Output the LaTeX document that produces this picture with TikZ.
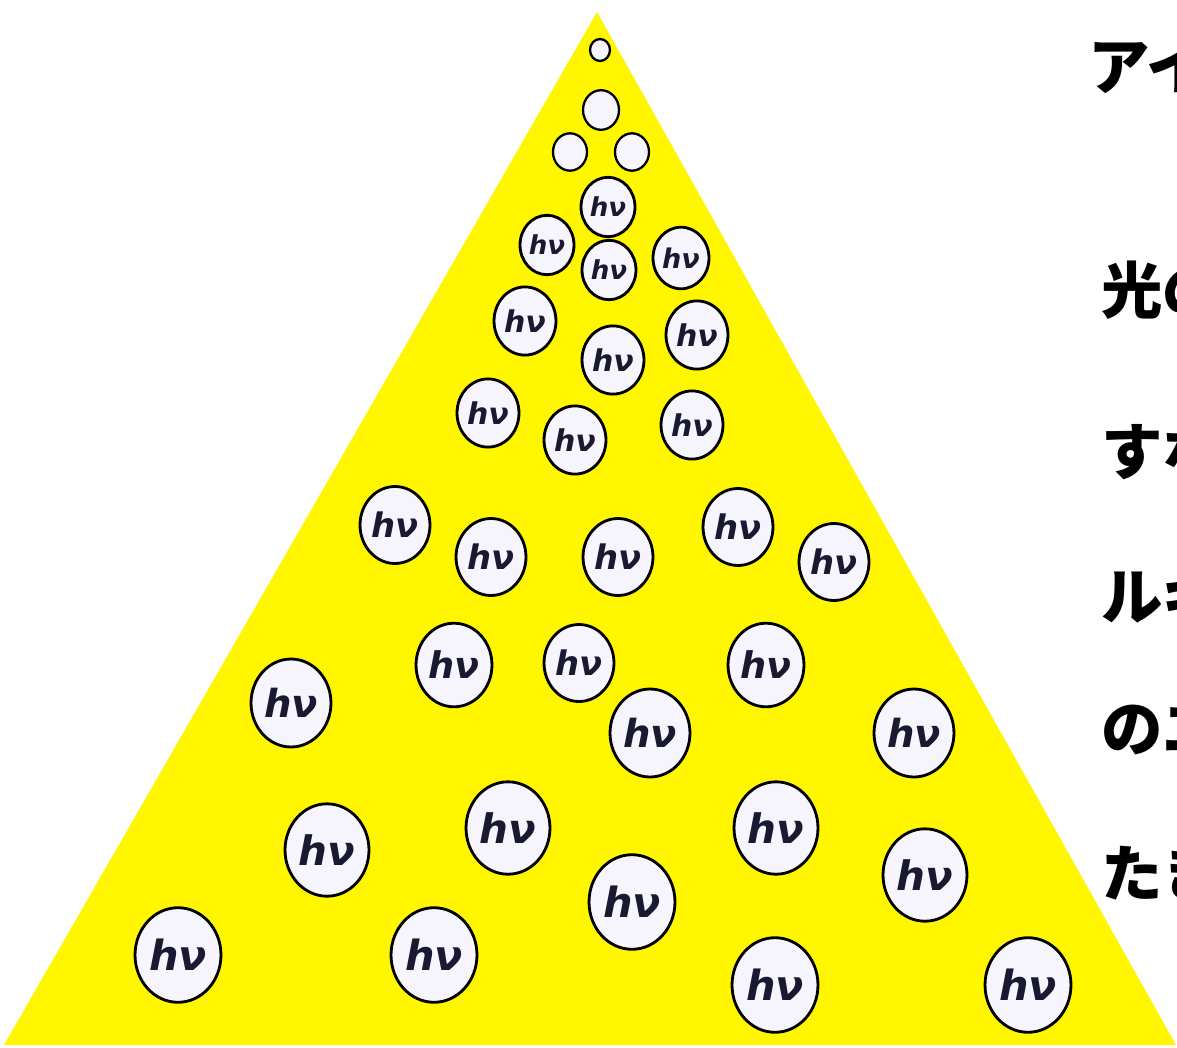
\documentclass[tikz,border=0pt]{standalone}
\usepackage{fontspec}
\usetikzlibrary{shapes.geometric}
\newfontfamily\cjk{Noto Sans CJK JP}
\newfontfamily\hvfont{DejaVu Sans}
\definecolor{pyellow}{RGB}{255,246,0}
\definecolor{pfill}{RGB}{246,244,252}
\definecolor{hvink}{RGB}{25,25,50}
\tikzset{
  photon/.style={ellipse, draw=black, line width=1.6pt, fill=pfill, inner sep=0pt, text=hvink},
  sidetext/.style={anchor=west, inner sep=0pt, font=\cjk\bfseries\fontsize{35pt}{35pt}\selectfont}
}
\begin{document}
\begin{tikzpicture}[x=0.02cm,y=-0.02cm]
\useasboundingbox (0,0) rectangle (1177,1048);
\clip (0,0) rectangle (1177,1048);
\fill[white] (0,0) rectangle (1177,1048);

% the pyramid
\fill[pyellow] (597,12) -- (1176,1045) -- (4,1045) -- cycle;

% empty quanta at the top
\foreach \px/\py/\pr [count=\i] in {600/50/10, 601/110/18, 570/152/17, 632/152/17}
  \node[photon, line width=1.3pt, minimum width=\pr*0.04cm, minimum height=\pr*0.044cm] (e\i) at (\px,\py) {};

% photons
\foreach \px/\py/\pr [count=\i] in {
  608/207/27, 547/245/27, 609/270/27, 681/258/28,
  525/321/31, 697/335/31, 613/360/31,
  488/413/31, 575/440/31, 692/425/31,
  395/525/35, 491/557/35, 618/557/35, 738/527/35, 834/562/35,
  454/665/38, 579/663/35, 766/665/38,
  291/703/40, 650/733/40, 914/733/40,
  327/850/42, 508/828/42, 776/828/42, 925/875/42, 632/902/43,
  178/955/43, 434/955/43, 775/985/43, 1028/985/43}
{
  \pgfmathsetmacro\hvsize{0.55*\pr}
  \node[photon, minimum width=\pr*0.04cm, minimum height=\pr*0.044cm,
        font=\hvfont\bfseries\itshape\fontsize{\hvsize pt}{\hvsize pt}\selectfont] (p\i) at (\px,\py) {hν};
}

% text on the right, cut by the edge
\node[sidetext] (t1) at (1088,66) {アイ};
\foreach \ty/\txt [count=\i from 2] in {290/光の, 452/すな, 595/ルギ, 730/のエ, 873/たき}
  \node[sidetext] (t\i) at (1101,\ty) {\txt};
\end{tikzpicture}
\end{document}
